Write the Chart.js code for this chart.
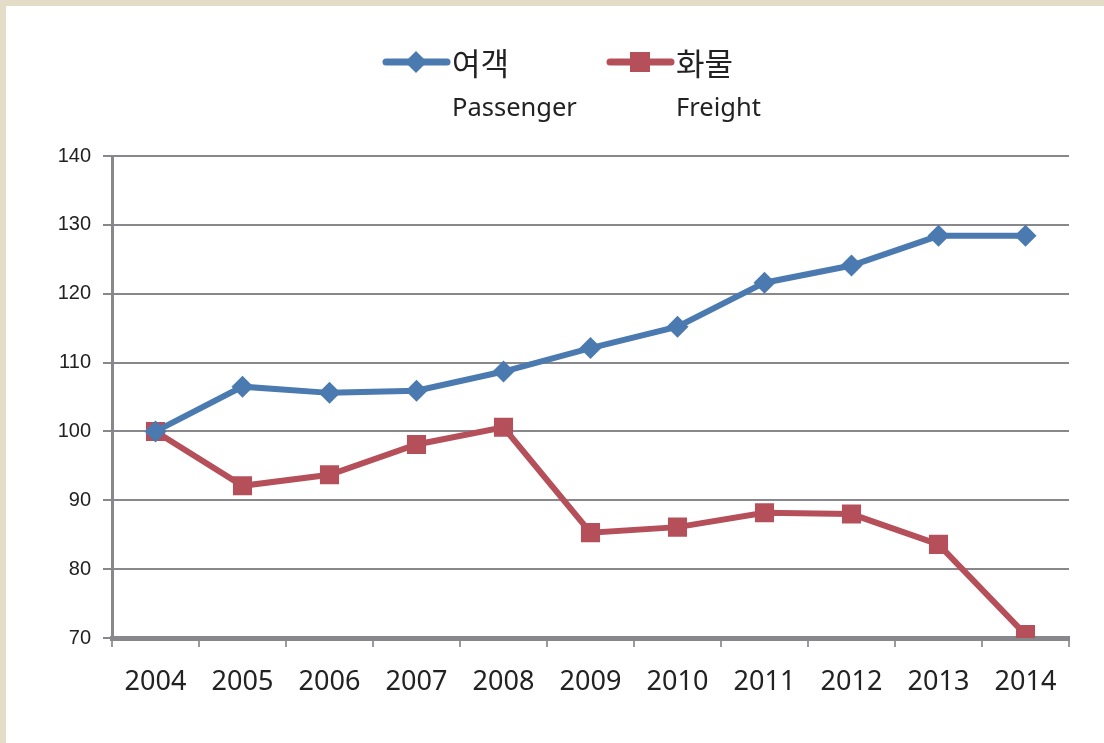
<!DOCTYPE html>
<html>
<head>
<meta charset="utf-8">
<script src="https://cdn.jsdelivr.net/npm/chart.js@4"></script>
<style>
  html, body { margin: 0; padding: 0; background: #e3ddc7; }
  #wrap { position: absolute; left: 6px; top: 6px; width: 1098px; height: 737px; background: #fff; }
</style>
</head>
<body>
<div id="wrap"><canvas id="chart"></canvas></div>
<script>
// 연도 (x축)
const years = ['2004', '2005', '2006', '2007', '2008', '2009', '2010', '2011', '2012', '2013', '2014'];
// 여객 지수 (2004 = 100)
const passenger = [100, 106.5, 105.6, 105.9, 108.7, 112.1, 115.2, 121.6, 124.1, 128.4, 128.4];
// 화물 지수 (2004 = 100)
const freight = [100, 92.1, 93.7, 98.1, 100.6, 85.3, 86.1, 88.2, 88.0, 83.6, 70.5];
// 범례 문구
const legendKo = ['여객', '화물'];
const legendEn = ['Passenger', 'Freight'];

const BLUE = '#4a7aaf';
const RED = '#b5505a';
const GRID = '#88878b';

// 범례: 두 줄(한글 + 영문)이라 직접 그린다
const twoLineLegend = {
    id: 'twoLineLegend',
    afterDraw(chart) {
        const ctx = chart.ctx;
        const items = [
            { x: 380, color: BLUE, style: 'diamond' },
            { x: 604, color: RED, style: 'square' }
        ];
        ctx.save();
        items.forEach((it, i) => {
            const y = 56;
            ctx.strokeStyle = it.color;
            ctx.lineWidth = 7;
            ctx.lineCap = 'round';
            ctx.beginPath();
            ctx.moveTo(it.x, y);
            ctx.lineTo(it.x + 61, y);
            ctx.stroke();
            ctx.fillStyle = it.color;
            const cx = it.x + 30;
            if (it.style === 'diamond') {
                ctx.beginPath();
                ctx.moveTo(cx, y - 11);
                ctx.lineTo(cx + 11, y);
                ctx.lineTo(cx, y + 11);
                ctx.lineTo(cx - 11, y);
                ctx.closePath();
                ctx.fill();
            } else {
                ctx.fillRect(cx - 10, y - 10, 20, 20);
            }
            ctx.fillStyle = '#222';
            ctx.textBaseline = 'middle';
            ctx.textAlign = 'left';
            ctx.font = '31px "Noto Sans CJK KR"';
            ctx.fillText(legendKo[i], it.x + 66, y + 1);
            ctx.font = '25.5px "Noto Sans"';
            ctx.fillText(legendEn[i], it.x + 66, 103);
        });
        ctx.restore();
    }
};

const ctx = document.getElementById('chart').getContext('2d');
new Chart(ctx, {
    type: 'line',
    data: {
        labels: years,
        datasets: [{
            label: legendKo[0],
            data: passenger,
            borderColor: BLUE,
            backgroundColor: BLUE,
            borderWidth: 6,
            pointStyle: 'rectRot',
            pointRadius: 11,
            pointBorderWidth: 0,
            tension: 0
        }, {
            label: legendKo[1],
            data: freight,
            borderColor: RED,
            backgroundColor: RED,
            borderWidth: 6,
            pointStyle: 'rect',
            pointRadius: 13.5,
            pointBorderWidth: 0,
            tension: 0
        }]
    },
    options: {
        responsive: true,
        maintainAspectRatio: false,
        animation: false,
        layout: { padding: { top: 150, right: 35, left: 0, bottom: 0 } },
        plugins: {
            legend: { display: false },
            tooltip: { enabled: false }
        },
        scales: {
            x: {
                offset: true,
                afterFit: (s) => { s.height = 105; },
                grid: {
                    offset: true,
                    drawOnChartArea: false,
                    drawTicks: true,
                    tickLength: 9,
                    color: '#9a999d',
                    lineWidth: 2
                },
                border: { color: GRID, width: 5 },
                ticks: {
                    color: '#222',
                    padding: 19,
                    font: { family: '"Noto Sans"', size: 27 }
                }
            },
            y: {
                min: 70,
                max: 140,
                afterFit: (s) => { s.width = 106; },
                grid: {
                    color: GRID,
                    lineWidth: 2,
                    tickLength: 9
                },
                border: { color: GRID, width: 3 },
                ticks: {
                    stepSize: 10,
                    color: '#222',
                    padding: 12,
                    font: { family: '"Liberation Sans"', size: 20 }
                }
            }
        }
    },
    plugins: [twoLineLegend]
});
</script>
</body>
</html>
